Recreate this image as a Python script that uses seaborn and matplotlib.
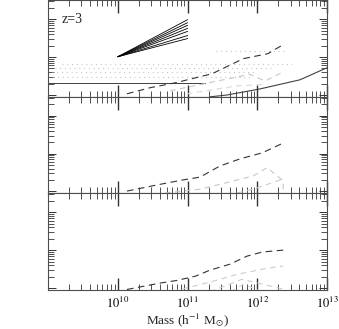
import numpy as np
import pandas as pd
import matplotlib
matplotlib.use("Agg")
import matplotlib.pyplot as plt
import seaborn as sns

# ---- data (log10 of mass, log10 of quantity) ----

# panel 1 (z=3)
fan_x = [10.0, 11.0]
fan_start = 1.01
fan_end = [1.99, 1.91, 1.84, 1.76, 1.68, 1.57, 1.49]

flat_x = [9.0, 11.25]
flat_y = [0.32, 0.32]

dot_rows_y = [1.17, 0.82, 0.72, 0.61, 0.48]
dot_rows_x = [(11.4, 12.4), (9.2, 12.5), (9.1, 12.2), (9.05, 12.0), (9.0, 11.9)]

p1_dark_x = [10.13, 10.46, 10.82, 11.35, 11.80, 12.15, 12.37]
p1_dark_y = [0.03, 0.19, 0.32, 0.56, 0.96, 1.09, 1.33]

p1_solid_x = [11.32, 11.57, 12.04, 12.61, 13.0]
p1_solid_y = [-0.05, 0.0, 0.16, 0.40, 0.72]

p1_greyA_x = [10.75, 11.80, 11.87, 12.11, 12.37]
p1_greyA_y = [0.11, 0.51, 0.56, 0.37, 0.61]
p1_greyB_x = [10.99, 11.71, 12.11]
p1_greyB_y = [0.03, 0.24, 0.28]

# panel 2
p2_dark_x = [10.13, 10.61, 10.92, 11.18, 11.46, 11.75, 12.07, 12.37]
p2_dark_y = [0.01, 0.19, 0.30, 0.38, 0.67, 0.86, 1.02, 1.28]

p2_greyA_x = [10.39, 11.18, 11.47, 11.94, 12.14, 12.37, 12.37]
p2_greyA_y = [-0.1, 0.06, 0.19, 0.41, 0.63, 0.28, -0.2]
p2_greyB_x = [11.57, 11.94, 12.37]
p2_greyB_y = [-0.1, 0.06, 0.33]

# panel 3
p3_dark_x = [10.13, 10.61, 10.85, 11.11, 11.32, 11.61, 11.85, 12.07, 12.37]
p3_dark_y = [-0.04, 0.13, 0.20, 0.31, 0.47, 0.63, 0.84, 0.95, 1.00]

p3_grey1_x = [10.79, 11.37, 11.71, 12.14, 12.37]
p3_grey1_y = [-0.09, 0.18, 0.36, 0.52, 0.58]
p3_grey2_x = [11.32, 11.78, 12.37]
p3_grey2_y = [-0.1, 0.23, -0.03]
p3_grey3_x = [11.61, 11.80, 12.07]
p3_grey3_y = [-0.1, 0.10, -0.1]

xtick_pos = [1e10, 1e11, 1e12, 1e13]
xtick_lab = [r"$10^{10}$", r"$10^{11}$", r"$10^{12}$", r"$10^{13}$"]


def line(ax, xs, ys, **kw):
    d = pd.DataFrame({"m": 10 ** np.array(xs, float), "v": 10 ** np.array(ys, float)})
    sns.lineplot(data=d, x="m", y="v", ax=ax, estimator=None, sort=False,
                 legend=False, **kw)


sns.set_style("ticks")
plt.rcParams["font.family"] = ["Liberation Serif", "DejaVu Serif"]
plt.rcParams["mathtext.fontset"] = "stix"

fig, axes = plt.subplots(3, 1, sharex=True, figsize=(3.39, 3.29), dpi=100)
fig.subplots_adjust(left=0.142, right=0.965, top=0.999, bottom=0.119, hspace=0)

ax = axes[0]
for e in fan_end:
    line(ax, fan_x, [fan_start, e], color="black", lw=0.6)
line(ax, flat_x, flat_y, color="0.25", lw=0.7)
for yy, (x0, x1) in zip(dot_rows_y, dot_rows_x):
    line(ax, [x0, x1], [yy, yy], color="0.72", lw=0.8, linestyle=(0, (0.8, 3.5)))
line(ax, p1_dark_x, p1_dark_y, color="0.2", lw=0.8, linestyle=(0, (6, 4)))
line(ax, p1_solid_x, p1_solid_y, color="0.25", lw=0.8)
line(ax, p1_greyA_x, p1_greyA_y, color="0.78", lw=0.8, linestyle=(0, (5, 4)))
line(ax, p1_greyB_x, p1_greyB_y, color="0.85", lw=0.8, linestyle=(0, (5, 4)))
ax.text(0.05, 0.77, "z=3", transform=ax.transAxes, fontsize=10)

ax = axes[1]
line(ax, p2_dark_x, p2_dark_y, color="0.2", lw=0.8, linestyle=(0, (6, 4)))
line(ax, p2_greyA_x, p2_greyA_y, color="0.78", lw=0.8, linestyle=(0, (5, 4)))
line(ax, p2_greyB_x, p2_greyB_y, color="0.8", lw=0.8, linestyle=(0, (5, 4)))

ax = axes[2]
line(ax, p3_dark_x, p3_dark_y, color="0.2", lw=0.8, linestyle=(0, (6, 4)))
line(ax, p3_grey1_x, p3_grey1_y, color="0.8", lw=0.8, linestyle=(0, (5, 4)))
line(ax, p3_grey2_x, p3_grey2_y, color="0.8", lw=0.8, linestyle=(0, (5, 4)))
line(ax, p3_grey3_x, p3_grey3_y, color="0.85", lw=0.8, linestyle=(0, (5, 4)))

for ax in axes:
    ax.set_xscale("log")
    ax.set_yscale("log")
    ax.set_xlim(1e9, 1e13)
    ax.set_ylim(10 ** -0.05, 10 ** 2.5)
    ax.set_xlabel("")
    ax.set_ylabel("")
    ax.tick_params(which="both", direction="in", top=True, right=True,
                   labelleft=False, colors="0.2")
    ax.tick_params(which="major", axis="x", length=9, width=1.0)
    ax.tick_params(which="major", axis="y", length=6, width=0.7)
    ax.tick_params(which="minor", length=4, width=0.6)
    ax.yaxis.set_minor_formatter(matplotlib.ticker.NullFormatter())
    for s in ax.spines.values():
        s.set_color("0.3")
        s.set_linewidth(0.8)

axes[2].set_xticks(xtick_pos)
axes[2].set_xticklabels(xtick_lab, fontsize=9)
axes[2].tick_params(axis="x", which="major", pad=4, labelcolor="black")
axes[2].set_xlabel(r"Mass (h$^{-1}$ M$_{\odot}$)", fontsize=9.5, labelpad=1)

fig.savefig("out.png", dpi=100)
